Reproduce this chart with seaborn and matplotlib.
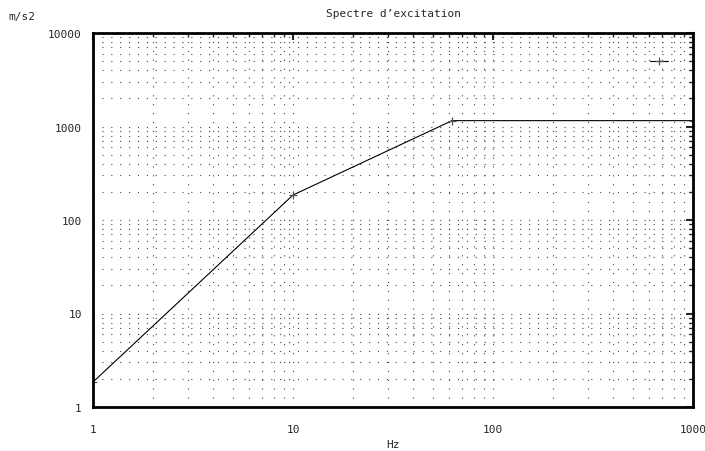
import pandas as pd
import matplotlib
matplotlib.use("Agg")
import matplotlib.pyplot as plt
import seaborn as sns

# spectrum breakpoints
freq_hz = [1, 10, 62.4, 1000]
accel_ms2 = [1.85, 185, 1155, 1155]

title_txt = "Spectre d\u2019excitation"
x_label = "Hz"
y_label = "m/s2"
x_ticks = [1, 10, 100, 1000]
y_ticks = [1, 10, 100, 1000, 10000]

sns.set_style("white")
plt.rcParams['font.family'] = ['DejaVu Sans Mono', 'DejaVu Sans']

df = pd.DataFrame({"f": freq_hz, "a": accel_ms2})

fig = plt.figure(figsize=(7.05, 4.52), dpi=100)
ax = fig.add_axes([93 / 705, 1 - 408 / 452, 600 / 705, 374 / 452])

sns.lineplot(data=df, x="f", y="a", ax=ax, color="black", linewidth=0.8,
             marker="+", markersize=6, markeredgewidth=0.9,
             markeredgecolor="#555555", label=" ")

ax.set_xscale("log")
ax.set_yscale("log")
ax.set_xlim(1, 1000)
ax.set_ylim(1, 10000)

ax.set_xticks(x_ticks)
ax.set_xticklabels([str(t) for t in x_ticks])
ax.set_yticks(y_ticks)
ax.set_yticklabels([str(t) for t in y_ticks])

ax.grid(True, which="both", linestyle=(0, (1, 7)), color="#444444", linewidth=0.8)
ax.tick_params(which="both", direction="in", top=True, right=True, labelsize=8)
ax.tick_params(which="major", length=5, width=1.5, pad=12)
ax.tick_params(which="minor", length=3, width=1.0)
ax.tick_params(axis="y", pad=8)
for s in ax.spines.values():
    s.set_linewidth(2)
    s.set_color("black")

ax.set_title(title_txt, fontsize=8, pad=12)
ax.set_xlabel(x_label, fontsize=8, labelpad=4)
ax.set_ylabel("")
fig.text(8 / 705, 1 - 17 / 452, y_label, fontsize=8, va="center", ha="left")

leg = ax.legend(loc="upper right", frameon=False, handlelength=1.8,
                bbox_to_anchor=(0.995, 0.96), fontsize=7)

fig.savefig("out.png", dpi=100)
